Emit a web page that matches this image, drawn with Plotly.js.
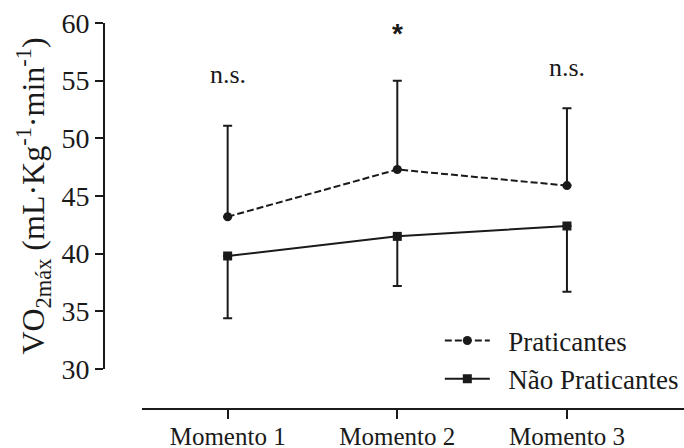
<!DOCTYPE html>
<html>
<head>
<meta charset="utf-8">
<script src="https://cdn.plot.ly/plotly-3.0.1.min.js"></script>
<style>html,body{margin:0;padding:0;background:#fff;}#chart{width:684px;height:448px;}</style>
</head>
<body>
<div id="chart"></div>
<script>
const categories = ['Momento 1', 'Momento 2', 'Momento 3'];
const pratMean = [43.2, 47.3, 45.9];
const pratSD = [7.9, 7.7, 6.7];
const naoMean = [39.8, 41.5, 42.4];
const naoSD = [5.4, 4.3, 5.7];
const zeros = [0, 0, 0];
const yTicks = [30, 35, 40, 45, 50, 55, 60];
const sigLabels = ['n.s.', '*', 'n.s.'];
const sigY = [55.5, 59.1, 56.1];
const seriesNames = ['Praticantes', 'Não Praticantes'];

const ink = '#1a1a1a';
const serif = "'Liberation Serif', 'Times New Roman', serif";
const sans = "'Liberation Sans', Arial, sans-serif";

const traces = [
  {
    x: categories, y: pratMean, name: '\u2002' + seriesNames[0], type: 'scatter', mode: 'lines+markers',
    line: {color: ink, width: 2, dash: '7px,3px'},
    marker: {symbol: 'circle', size: 9, color: ink},
    error_y: {type: 'data', symmetric: false, array: pratSD, arrayminus: zeros, width: 4.5, thickness: 2, color: ink},
    cliponaxis: false
  },
  {
    x: categories, y: naoMean, name: '\u2002' + seriesNames[1], type: 'scatter', mode: 'lines+markers',
    line: {color: ink, width: 2},
    marker: {symbol: 'square', size: 9, color: ink},
    error_y: {type: 'data', symmetric: false, array: zeros, arrayminus: naoSD, width: 4.5, thickness: 2, color: ink},
    cliponaxis: false
  }
];

const annotations = categories.map((c, i) => ({
  x: c, y: sigY[i], xref: 'x', yref: 'y', text: sigLabels[i], showarrow: false,
  font: sigLabels[i] === '*' ? {family: sans, size: 28, weight: 'bold', color: ink} : {family: serif, size: 26, color: ink},
  xanchor: 'center', yanchor: 'middle'
}));

const layout = {
  width: 684, height: 448,
  margin: {l: 104, r: 0, t: 23, b: 39},
  paper_bgcolor: '#fff', plot_bgcolor: '#fff',
  font: {family: serif, color: ink},
  showlegend: true,
  legend: {x: 0.579, y: 0.127, xanchor: 'left', yanchor: 'middle', itemwidth: 45,
           font: {family: serif, size: 27, color: ink}, bgcolor: 'rgba(0,0,0,0)'},
  xaxis: {
    type: 'category', categoryarray: categories, range: [-0.505, 2.69],
    domain: [0.0655, 1], anchor: 'free', position: 0,
    showline: true, linecolor: ink, linewidth: 2,
    ticks: 'outside', ticklen: 9, tickwidth: 2, tickcolor: ink, ticklabelstandoff: -4,
    showgrid: false, zeroline: false,
    tickfont: {family: serif, size: 25, color: ink}
  },
  yaxis: {
    range: [30, 60], domain: [0.1036, 1], anchor: 'free', position: 0,
    tickvals: yTicks, ticktext: yTicks.map(String),
    showline: true, linecolor: ink, linewidth: 2,
    ticks: 'outside', ticklen: 8, tickwidth: 2, tickcolor: ink,
    showgrid: false, zeroline: false,
    tickfont: {family: serif, size: 28, color: ink},
    title: {
      text: 'VO<sub>2máx</sub> (mL·Kg<sup>-1</sup>·min<sup>-1</sup>)',
      font: {family: serif, size: 32, color: ink}, standoff: 6
    }
  },
  annotations: annotations
};

Plotly.newPlot('chart', traces, layout, {displayModeBar: false, staticPlot: true});
</script>
</body>
</html>
